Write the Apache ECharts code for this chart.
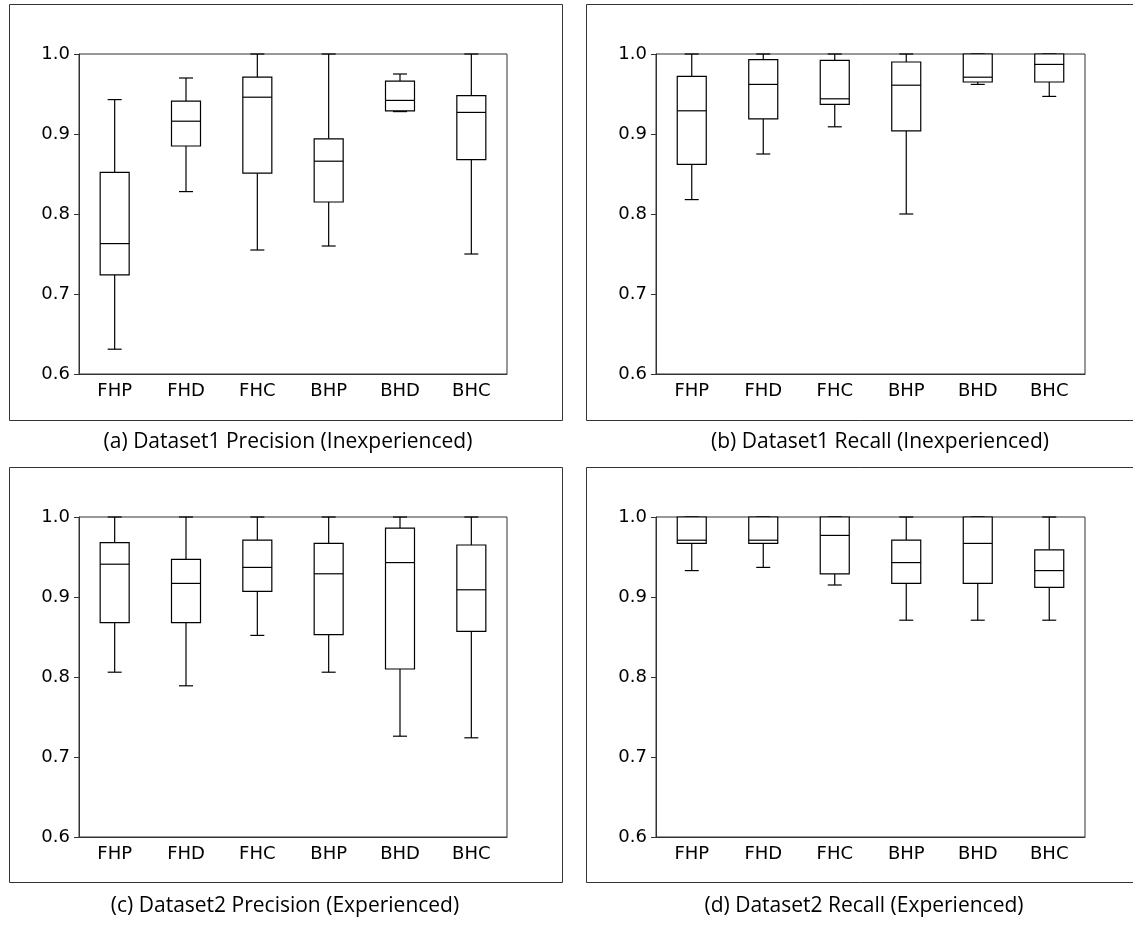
<!DOCTYPE html>
<html>
<head>
<meta charset="utf-8">
<script src="https://cdn.jsdelivr.net/npm/echarts@6/dist/echarts.min.js"></script>
<style>
  html, body { margin: 0; padding: 0; background: #fff; }
  #main { width: 1133px; height: 927px; }
</style>
</head>
<body>
<div id="main"></div>
<script>
// categories on x axis
var categories = ['FHP', 'FHD', 'FHC', 'BHP', 'BHD', 'BHC'];

// [min, q1, median, q3, max] for each category
var d1Precision = [
  [0.631, 0.724, 0.763, 0.852, 0.943],
  [0.828, 0.885, 0.916, 0.941, 0.970],
  [0.755, 0.851, 0.946, 0.971, 1.000],
  [0.760, 0.815, 0.866, 0.894, 1.000],
  [0.928, 0.929, 0.942, 0.966, 0.975],
  [0.750, 0.868, 0.927, 0.948, 1.000]
];
var d1Recall = [
  [0.818, 0.862, 0.929, 0.972, 1.000],
  [0.875, 0.919, 0.962, 0.993, 1.000],
  [0.909, 0.937, 0.944, 0.992, 1.000],
  [0.800, 0.904, 0.961, 0.990, 1.000],
  [0.962, 0.965, 0.971, 1.000, 1.000],
  [0.947, 0.965, 0.987, 1.000, 1.000]
];
var d2Precision = [
  [0.806, 0.868, 0.941, 0.968, 1.000],
  [0.789, 0.868, 0.917, 0.947, 1.000],
  [0.852, 0.907, 0.937, 0.971, 1.000],
  [0.806, 0.853, 0.929, 0.967, 1.000],
  [0.726, 0.810, 0.943, 0.986, 1.000],
  [0.724, 0.857, 0.909, 0.965, 1.000]
];
var d2Recall = [
  [0.933, 0.967, 0.971, 1.000, 1.000],
  [0.937, 0.967, 0.971, 1.000, 1.000],
  [0.915, 0.929, 0.977, 1.000, 1.000],
  [0.871, 0.917, 0.943, 0.971, 1.000],
  [0.871, 0.917, 0.967, 1.000, 1.000],
  [0.871, 0.912, 0.933, 0.959, 1.000]
];

var captions = [
  '(a) Dataset1 Precision (Inexperienced)',
  '(b) Dataset1 Recall (Inexperienced)',
  '(c) Dataset2 Precision (Experienced)',
  '(d) Dataset2 Recall (Experienced)'
];

var yMin = 0.6, yMax = 1.0, yStep = 0.1;

var panels = [d1Precision, d1Recall, d2Precision, d2Recall];
var grids = [
  { left: 79, top: 54, width: 428, height: 320 },
  { left: 656, top: 54, width: 429, height: 320 },
  { left: 79, top: 517, width: 428, height: 320 },
  { left: 656, top: 517, width: 429, height: 320 }
];
var frames = [
  { x: 9, y: 4, width: 553, height: 416 },
  { x: 586, y: 4, width: 560, height: 416 },
  { x: 9, y: 467, width: 553, height: 415 },
  { x: 586, y: 467, width: 560, height: 415 }
];
var captionPos = [[288, 442], [880, 442], [285, 906], [864, 906]];

var lineColor = '#000';
var boxHalf = 14.5;
var capHalf = 7;

function renderBox(params, api) {
  var i = api.value(0);
  var pMin = api.coord([i, api.value(1)]);
  var pQ1 = api.coord([i, api.value(2)]);
  var pMed = api.coord([i, api.value(3)]);
  var pQ3 = api.coord([i, api.value(4)]);
  var pMax = api.coord([i, api.value(5)]);
  var x = pMed[0];
  var st = { stroke: lineColor, lineWidth: 1.2, fill: null };
  return {
    type: 'group',
    children: [
      { type: 'line', shape: { x1: x, y1: pMax[1], x2: x, y2: pQ3[1] }, style: st },
      { type: 'line', shape: { x1: x, y1: pQ1[1], x2: x, y2: pMin[1] }, style: st },
      { type: 'line', shape: { x1: x - capHalf, y1: pMax[1], x2: x + capHalf, y2: pMax[1] }, style: st },
      { type: 'line', shape: { x1: x - capHalf, y1: pMin[1], x2: x + capHalf, y2: pMin[1] }, style: st },
      { type: 'rect', shape: { x: x - boxHalf, y: pQ3[1], width: boxHalf * 2, height: pQ1[1] - pQ3[1] },
        style: { stroke: lineColor, lineWidth: 1.2, fill: '#fff' } },
      { type: 'line', shape: { x1: x - boxHalf, y1: pMed[1], x2: x + boxHalf, y2: pMed[1] }, style: st }
    ]
  };
}

var chart = echarts.init(document.getElementById('main'));

var option = {
  animation: false,
  backgroundColor: '#fff',
  grid: grids.map(function (g) {
    return {
      left: g.left, top: g.top, width: g.width, height: g.height,
      show: true, borderColor: '#333', borderWidth: 1, backgroundColor: 'transparent'
    };
  }),
  xAxis: grids.map(function (g, k) {
    return {
      type: 'category',
      gridIndex: k,
      data: categories,
      axisLine: { lineStyle: { color: '#333', width: 1 } },
      axisTick: { alignWithLabel: true, length: 5, lineStyle: { color: '#333' } },
      axisLabel: { color: '#000', fontSize: 18, fontFamily: 'DejaVu Sans', margin: 8 },
      splitLine: { show: false }
    };
  }),
  yAxis: grids.map(function (g, k) {
    return {
      type: 'value',
      gridIndex: k,
      min: yMin, max: yMax, interval: yStep,
      axisLine: { show: true, lineStyle: { color: '#333', width: 1 } },
      axisTick: { show: true, length: 5, lineStyle: { color: '#333' } },
      axisLabel: {
        color: '#000', fontSize: 18, fontFamily: 'DejaVu Sans', margin: 9,
        formatter: function (v) { return v.toFixed(1); }
      },
      splitLine: { show: false }
    };
  }),
  series: panels.map(function (rows, k) {
    return {
      type: 'custom',
      xAxisIndex: k,
      yAxisIndex: k,
      renderItem: renderBox,
      encode: { x: 0, y: [1, 2, 3, 4, 5] },
      data: rows.map(function (r, i) { return [i].concat(r); }),
      clip: false
    };
  }),
  graphic: frames.map(function (f) {
    return {
      type: 'rect',
      shape: { x: f.x + 0.5, y: f.y + 0.5, width: f.width, height: f.height },
      style: { fill: null, stroke: '#333', lineWidth: 1 },
      z: -1
    };
  }).concat(captions.map(function (c, k) {
    return {
      type: 'text',
      x: captionPos[k][0],
      y: captionPos[k][1],
      style: {
        text: c,
        fill: '#000',
        font: '21px "Open Sans"',
        textAlign: 'center',
        textVerticalAlign: 'middle'
      }
    };
  }))
};

chart.setOption(option);
</script>
</body>
</html>
